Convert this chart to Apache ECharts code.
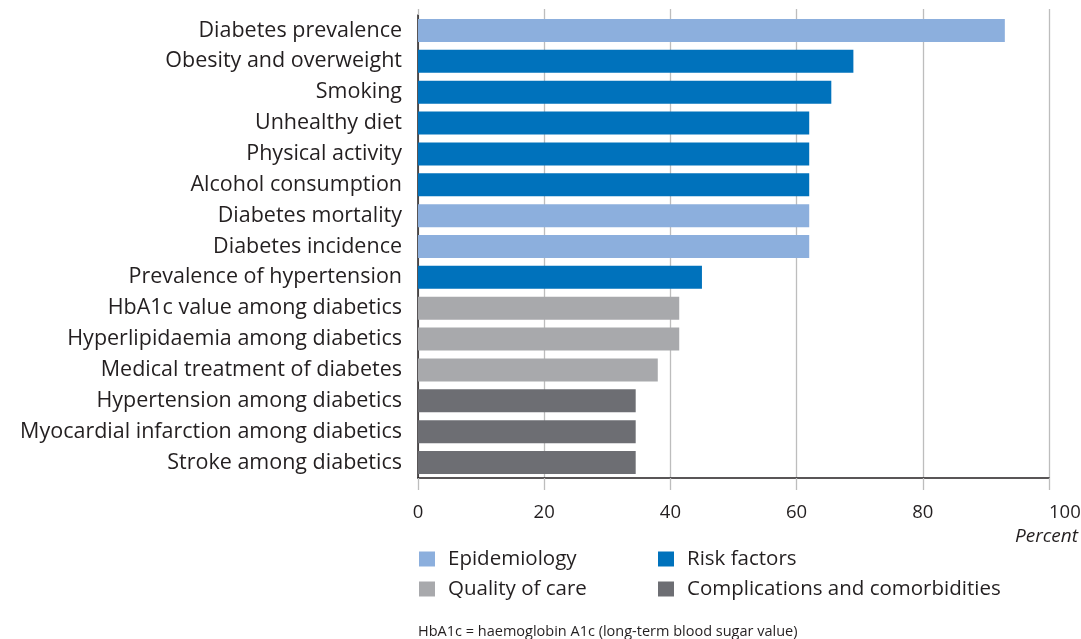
<!DOCTYPE html>
<html><head><meta charset="utf-8">
<script src="https://cdn.jsdelivr.net/npm/echarts@6/dist/echarts.min.js"></script>
<style>html,body{margin:0;padding:0;background:#fff}#c{width:1081px;height:639px}</style>
</head><body><div id="c"></div>
<script>
const categories = [
  "Diabetes prevalence","Obesity and overweight","Smoking","Unhealthy diet","Physical activity",
  "Alcohol consumption","Diabetes mortality","Diabetes incidence","Prevalence of hypertension",
  "HbA1c value among diabetics","Hyperlipidaemia among diabetics","Medical treatment of diabetes",
  "Hypertension among diabetics","Myocardial infarction among diabetics","Stroke among diabetics"
];
const values = [93, 69, 65.5, 62, 62, 62, 62, 62, 45, 41.4, 41.4, 38, 34.5, 34.5, 34.5];
const groups = ["Epidemiology","Risk factors","Risk factors","Risk factors","Risk factors",
  "Risk factors","Epidemiology","Epidemiology","Risk factors",
  "Quality of care","Quality of care","Quality of care",
  "Complications and comorbidities","Complications and comorbidities","Complications and comorbidities"];
const groupNames = ["Epidemiology","Risk factors","Quality of care","Complications and comorbidities"];
const groupColors = ["#8CAFDD","#0072BC","#A8A9AC","#6D6E73"];
const xTicks = {min:0, max:100, interval:20};

const FONT = "Open Sans";
const TXT = "#231f20";
const chart = echarts.init(document.getElementById('c'));
const series = groupNames.map((g,i)=>({
  name: g, type:'bar', stack:'all', barWidth:23, silent:true,
  itemStyle:{color:groupColors[i]},
  data: values.map((v,j)=> groups[j]===g ? v : '-')
}));
chart.setOption({
  animation:false,
  textStyle:{fontFamily:FONT},
  grid:{left:418, right:32, top:15, bottom:161, containLabel:false, outerBoundsMode:'none'},
  xAxis:[{
    type:'value', position:'bottom', min:xTicks.min, max:xTicks.max, interval:xTicks.interval,
    axisLine:{show:true, lineStyle:{color:'#231f20', width:1.5}},
    axisTick:{show:true, length:12, lineStyle:{color:'#bdbdbd', width:1.3}},
    splitLine:{show:true, lineStyle:{color:'#bdbdbd', width:1.3}},
    axisLabel:{fontSize:18.5, color:TXT, fontFamily:FONT, margin:25, alignMaxLabel:'left'}
  },{
    type:'value', position:'top', min:xTicks.min, max:xTicks.max, interval:xTicks.interval,
    axisLine:{show:false}, axisLabel:{show:false}, splitLine:{show:false},
    axisTick:{show:true, length:6, lineStyle:{color:'#bdbdbd', width:1.3}}
  }],
  yAxis:{
    type:'category', inverse:true, data:categories,
    axisLine:{show:true, lineStyle:{color:'#231f20', width:1.5}},
    axisTick:{show:false},
    axisLabel:{fontSize:21.5, color:TXT, fontFamily:FONT, margin:16, padding:[3,0,0,0]}
  },
  legend:[{
    left:414, top:543, orient:'vertical', itemWidth:16, itemHeight:15, itemGap:8,
    icon:'rect', selectedMode:false, data:[groupNames[0], groupNames[2]],
    textStyle:{fontSize:20.5, color:TXT, fontFamily:FONT, lineHeight:22, padding:[0,0,0,8]}
  },{
    left:653, top:543, orient:'vertical', itemWidth:16, itemHeight:15, itemGap:8,
    icon:'rect', selectedMode:false, data:[groupNames[1], groupNames[3]],
    textStyle:{fontSize:20.5, color:TXT, fontFamily:FONT, lineHeight:22, padding:[0,0,0,8]}
  }],
  graphic:[{
    type:'text', right:3, top:527,
    style:{text:'Percent', font:'italic 19px "Open Sans"', fill:TXT}
  },{
    type:'text', left:418, top:624,
    style:{text:'HbA1c = haemoglobin A1c (long-term blood sugar value)', font:'14.5px "Open Sans"', fill:TXT}
  }],
  series: series
});
</script></body></html>
